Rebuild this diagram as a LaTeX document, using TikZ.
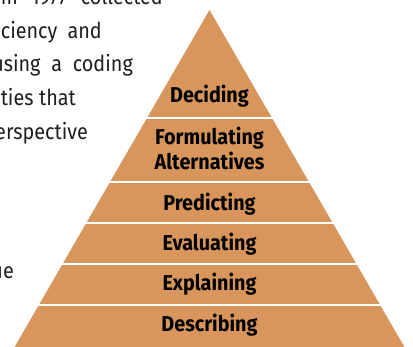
\documentclass[tikz,border=0pt]{standalone}
\usepackage{fontspec}
\setmainfont{Fira Sans}
\newfontfamily\bodyfont[FakeStretch=0.9]{Fira Sans}
\newfontfamily\tierfont[FakeStretch=0.92]{Fira Sans}
\begin{document}
\begin{tikzpicture}[x=1pt,y=-1pt,
  band/.style={fill=tier},
  bodytext/.style={anchor=base east,inner sep=0pt,text=ink,
    font=\bodyfont\fontsize{22}{24}\selectfont},
  tierlabel/.style={anchor=base,inner sep=0pt,text=black,
    font=\tierfont\bfseries\fontsize{21.5}{25}\selectfont}]
\definecolor{tier}{RGB}{216,150,92}
\definecolor{ink}{RGB}{30,30,30}
% page area
\fill[white] (0,0) rectangle (413,347);
\useasboundingbox (0,0) rectangle (413,347);
\clip (0,0) rectangle (413,347);

% justified running text of the page, cut at its left edge
\node[bodytext] (t1) at (163,5)   {\makebox[162pt][s]{m 1977 collected}};
\node[bodytext] (t2) at (102,39)  {\makebox[101pt][s]{ciency and}};
\node[bodytext] (t3) at (133,72)  {\llap{u}\makebox[129pt][s]{sing a coding}};
\node[bodytext] (t4) at (76,106)  {\makebox[75pt][s]{ties that}};
\node[bodytext] (t5) at (88,140)  {\llap{pe}rspective};
\node[bodytext] (t6) at (14,279)  {ue};

% pyramid: six tiers separated by thin white gaps
\coordinate (apex) at (209.5,10);
\coordinate (bl) at (14,348);
\coordinate (br) at (405,348);
\begin{scope}
  \clip (apex) -- (br) -- (bl) -- cycle;
  \fill[band] (0,8)     rectangle (413,116.9);
  \fill[band] (0,119.1) rectangle (413,181.2);
  \fill[band] (0,183.4) rectangle (413,222.2);
  \fill[band] (0,224.4) rectangle (413,263.2);
  \fill[band] (0,265.4) rectangle (413,303.9);
  \fill[band] (0,306.1) rectangle (413,350);
\end{scope}

% tier labels
\node[tierlabel] (decide)  at (209.5,103)   {Deciding};
\node[tierlabel] (formulA) at (209.5,145)   {Formulating};
\node[tierlabel] (formulB) at (209.5,170)   {Alternatives};
\node[tierlabel] (predict) at (209.5,210.7) {Predicting};
\node[tierlabel] (evalu)   at (209.5,250.7) {Evaluating};
\node[tierlabel] (explain) at (209.5,290.7) {Explaining};
\node[tierlabel] (describ) at (209.5,331.7) {Describing};
\end{tikzpicture}
\end{document}
